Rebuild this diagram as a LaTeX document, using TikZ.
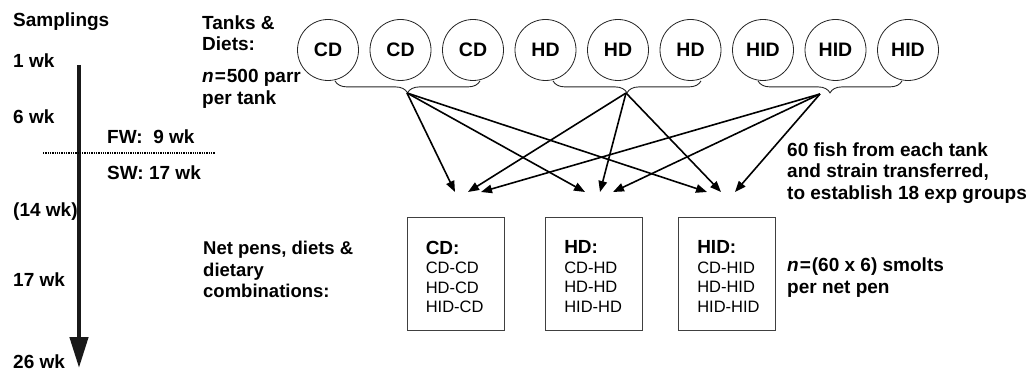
\documentclass[tikz,border=0pt]{standalone}
\usepackage{fontspec}
\setmainfont{Liberation Sans}
\usetikzlibrary{arrows.meta,calc,decorations.pathreplacing}

\tikzset{
  lbl/.style={font=\fontsize{19}{21.5}\selectfont\bfseries, anchor=west, align=left, inner sep=0pt},
  tank/.style={circle, draw=black!85, line width=0.8pt, minimum size=61pt, inner sep=0pt,
    font=\fontsize{19.5}{21.5}\selectfont\bfseries},
  bracket/.style={draw=black!85, line width=0.9pt, decorate,
    decoration={brace, mirror, amplitude=12pt}},
  feed/.style={line width=1.6pt, -{Triangle[length=11pt,width=8.5pt]}},
  pen/.style={draw=black!75, line width=0.9pt, minimum width=97pt, minimum height=113pt, inner sep=0pt},
  penlist/.style={font=\fontsize{16.5}{19.5}\selectfont, anchor=north west, align=left, inner sep=0pt},
}

\begin{document}
\begin{tikzpicture}[x=1pt,y=-1pt]
\useasboundingbox (0,0) rectangle (1032,371);

% sampling time line
\node[lbl] (samp) at (13,22) {Samplings};
\node[lbl] (w1) at (13,61) {1 wk};
\node[lbl] (w6) at (13,117) {6 wk};
\node[lbl] (w14) at (13,212) {(14 wk)};
\node[lbl] (w17) at (13,280) {17 wk};
\node[lbl] (w26) at (13,362) {26 wk};
\coordinate (tltop) at (79,65);
\coordinate (tlend) at (79,368);
\draw[line width=4.5pt, black!90, -{Triangle[length=31pt,width=18pt]}] (tltop) -- (tlend);

% fresh water / sea water split
\coordinate (swl) at (43,153);
\coordinate (swr) at (215,153);
\draw[line width=1.3pt, dash pattern=on 1.3pt off 1pt] (swl) -- (swr);
\node[lbl] (fw) at (107,137) {FW:\ \ 9 wk};
\node[lbl] (sw) at (107,173) {SW: 17 wk};

% tanks
\node[lbl] (tankhd) at (202,33) {Tanks \&\\Diets:};
\node[lbl] (tankn) at (202,89) {\textit{n}\kern1pt=\kern1pt500 parr\\per tank};
\foreach \lab [count=\i] in {CD,CD,CD,HD,HD,HD,HID,HID,HID}
  \node[tank] (t\i) at ({328+72.5*(\i-1)},50) {\lab};

\draw[bracket] ([xshift=7pt]t1.south) -- ([xshift=7pt]t3.south);
\draw[bracket] ([xshift=7.5pt]t4.south) -- ([xshift=10.5pt]t6.south);
\draw[bracket] ([xshift=-5pt]t7.south) -- ([xshift=-6pt]t9.south);
\coordinate (cdsrc) at (407,93);
\coordinate (hdsrc) at (626,93);
\coordinate (hidsrc) at (820,94);

% net pens
\node[pen] (pen1) at (455.5,273.5) {};
\node[pen] (pen2) at (594,273.5) {};
\node[pen] (pen3) at (727,273.5) {};
\node[penlist] (l1) at ([xshift=19pt,yshift=-24pt]pen1.north west) {\fontsize{19}{21.5}\selectfont\bfseries CD:\\CD-CD\\HD-CD\\HID-CD};
\node[penlist] (l2) at ([xshift=19pt,yshift=-24pt]pen2.north west) {\fontsize{19}{21.5}\selectfont\bfseries HD:\\CD-HD\\HD-HD\\HID-HD};
\node[penlist] (l3) at ([xshift=19pt,yshift=-24pt]pen3.north west) {\fontsize{19}{21.5}\selectfont\bfseries HID:\\CD-HID\\HD-HID\\HID-HID};

\node[lbl, font=\fontsize{18.5}{21.5}\selectfont\bfseries] (penhd) at (203,269.5) {Net pens, diets \&\\dietary\\combinations:};
\node[lbl] (transf) at (787,173) {60 fish from each tank\\and strain transferred,\\to establish 18 exp groups};
\node[lbl] (pensz) at (787,277.5) {\textit{n}\kern1pt=\kern1pt(60 x 6) smolts\\per net pen};

% transfers into the pens
\coordinate (a1) at (455,192);
\coordinate (a2) at (468,192);
\coordinate (a3) at (481,192);
\coordinate (b1) at (585,192);
\coordinate (b2) at (600,192);
\coordinate (b3) at (613,192);
\coordinate (c1) at (707,192);
\coordinate (c2) at (721,192);
\coordinate (c3) at (735,192);
\foreach \src/\n in {cdsrc/1,hdsrc/2,hidsrc/3}
  \draw[feed] (\src) -- (a\n);
\foreach \src/\n in {cdsrc/1,hdsrc/2,hidsrc/3}
  \draw[feed] (\src) -- (b\n);
\foreach \src/\n in {cdsrc/1,hdsrc/2,hidsrc/3}
  \draw[feed] (\src) -- (c\n);
\end{tikzpicture}
\end{document}
